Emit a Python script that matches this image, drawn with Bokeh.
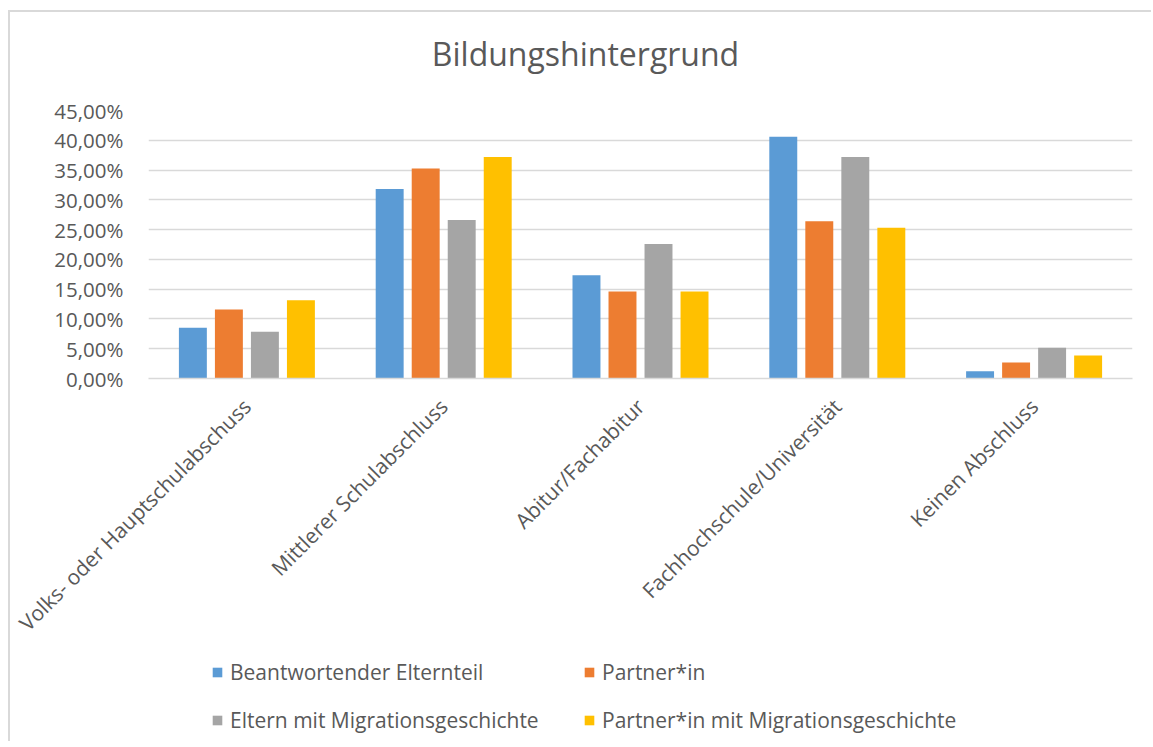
import math
from bokeh.plotting import figure
from bokeh.layouts import column
from bokeh.models import (FactorRange, Range1d, FixedTicker, Legend, LegendItem,
                          ColumnDataSource, Label)
from bokeh.transform import dodge
from bokeh.embed import file_html
from bokeh.resources import INLINE

categories = ["Volks- oder Hauptschulabschuss", "Mittlerer Schulabschluss",
              "Abitur/Fachabitur", "Fachhochschule/Universität", "Keinen Abschluss"]
series_names = ["Beantwortender Elternteil", "Partner*in",
                "Eltern mit Migrationsgeschichte", "Partner*in mit Migrationsgeschichte"]
beantwortender = [0.0853, 0.3180, 0.1735, 0.4060, 0.0123]
partner = [0.1160, 0.3525, 0.1460, 0.2640, 0.0270]
eltern_mig = [0.0786, 0.2660, 0.2260, 0.3720, 0.0516]
partner_mig = [0.1313, 0.3720, 0.1460, 0.2530, 0.0387]
y_ticks = [0.0, 0.05, 0.1, 0.15, 0.2, 0.25, 0.3, 0.35, 0.4, 0.45]
y_tick_labels = ["0,00%", "5,00%", "10,00%", "15,00%", "20,00%", "25,00%",
                 "30,00%", "35,00%", "40,00%", "45,00%"]
title_text = "Bildungshintergrund"

colors = ["#5B9BD5", "#ED7D31", "#A5A5A5", "#FFC000"]
TEXT = "#595959"
BORDER = "#D9D9D9"
FONT = "Open Sans"

W = 1141
H_TITLE = 78
H_MAIN = 568
H_LEG = 83
MB_LEFT = 138
MB_RIGHT = 19

source = ColumnDataSource(dict(cat=categories, s0=beantwortender, s1=partner,
                               s2=eltern_mig, s3=partner_mig))

# ---- title strip ----
pt = figure(width=W, height=H_TITLE, output_backend="svg", toolbar_location=None,
            x_range=Range1d(148, 1132), y_range=Range1d(0, H_TITLE),
            x_axis_location=None, y_axis_location=None,
            min_border_left=MB_LEFT, min_border_right=MB_RIGHT,
            min_border_top=0, min_border_bottom=0)
pt.outline_line_color = None
pt.xgrid.grid_line_color = None
pt.ygrid.grid_line_color = None
pt.add_layout(Label(x=585, y=37, text=title_text, text_align="center",
                    text_baseline="alphabetic", text_font=FONT,
                    text_font_size="32px", text_color=TEXT))

# ---- main chart ----
p = figure(width=W, height=H_MAIN, output_backend="svg", toolbar_location=None,
           x_range=FactorRange(*categories), y_range=Range1d(0, 0.45),
           min_border_left=MB_LEFT, min_border_right=MB_RIGHT, min_border_top=20,
           min_border_bottom=280)
p.outline_line_color = None

pitch = 0.183
bw = 0.142
for j, key in enumerate(["s0", "s1", "s2", "s3"]):
    p.vbar(x=dodge("cat", (j - 1.5) * pitch, range=p.x_range), top=key, width=bw,
           source=source, fill_color=colors[j], line_color=None)

p.xgrid.grid_line_color = None
p.ygrid.grid_line_color = BORDER
p.ygrid.grid_line_width = 1.5
p.yaxis.ticker = FixedTicker(ticks=y_ticks)
p.yaxis.major_label_overrides = dict(zip(y_ticks, y_tick_labels))
p.yaxis.axis_line_color = None
p.yaxis.major_tick_line_color = None
p.yaxis.minor_tick_line_color = None
p.yaxis.major_label_standoff = 19
p.yaxis.major_label_text_font = FONT
p.yaxis.major_label_text_font_size = "20.5px"
p.yaxis.major_label_text_color = TEXT

p.xaxis.axis_line_color = BORDER
p.xaxis.axis_line_width = 1.5
p.xaxis.major_tick_line_color = None
p.xaxis.minor_tick_line_color = None
p.xaxis.major_label_orientation = math.pi / 4
p.xaxis.major_label_standoff = 18
p.xaxis.major_label_text_font = FONT
p.xaxis.major_label_text_font_size = "21px"
p.xaxis.major_label_text_color = TEXT

# ---- legend strip ----
pl = figure(width=W, height=H_LEG, output_backend="svg", toolbar_location=None,
            x_range=p.x_range, y_range=Range1d(10, 11),
            x_axis_location=None, y_axis_location=None,
            min_border_left=MB_LEFT, min_border_right=MB_RIGHT,
            min_border_top=0, min_border_bottom=0)
pl.outline_line_color = None
pl.xgrid.grid_line_color = None
pl.ygrid.grid_line_color = None
leg_r = []
for j, key in enumerate(["s0", "s1", "s2", "s3"]):
    leg_r.append(pl.vbar(x=dodge("cat", (j - 1.5) * pitch, range=p.x_range), top=key,
                         width=bw, source=source, fill_color=colors[j], line_color=None))

def make_legend(idx, xloc):
    items = [LegendItem(label=series_names[i], renderers=[leg_r[i]]) for i in idx]
    return Legend(items=items, location=(xloc, 7), orientation="vertical",
                  padding=0, margin=0, spacing=20, label_height=24,
                  glyph_width=12, glyph_height=12, label_standoff=7,
                  label_text_font=FONT, label_text_font_size="21px",
                  label_text_color=TEXT, border_line_color=None,
                  background_fill_alpha=0)

pl.add_layout(make_legend([0, 2], 63))
pl.add_layout(make_legend([1, 3], 435))

layout = column(pt, p, pl, spacing=0,
                styles={"margin-left": "8px", "margin-top": "10px",
                        "border-left": "2px solid " + BORDER,
                        "border-top": "2px solid " + BORDER,
                        "border-right": "none", "border-bottom": "none",
                        "overflow": "hidden"})
open("out.html", "w").write(file_html(layout, INLINE))
